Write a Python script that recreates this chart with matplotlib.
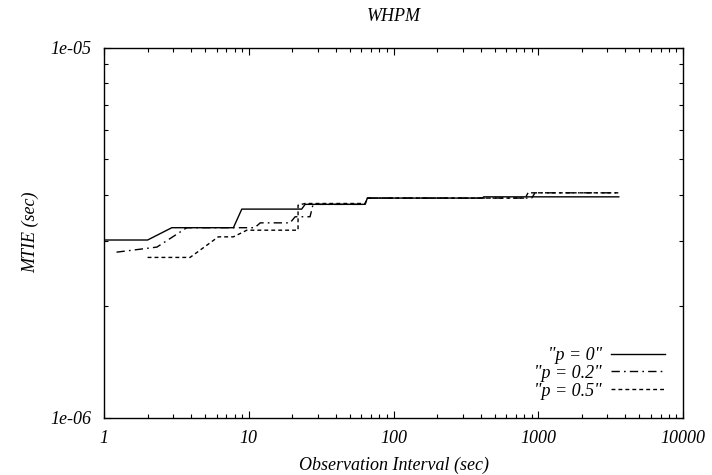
import matplotlib
matplotlib.use("Agg")
import matplotlib.pyplot as plt
from matplotlib.ticker import LogLocator, FixedLocator, NullFormatter

# MTIE curves (observation interval in sec, MTIE in sec)
tau_p0 = [1, 2.0, 2.94, 7.83, 8.95, 23.2, 24.5, 63.6, 66, 409, 420, 3600]
mtie_p0 = [3.02e-6, 3.02e-6, 3.26e-6, 3.26e-6, 3.66e-6, 3.66e-6, 3.77e-6,
           3.77e-6, 3.92e-6, 3.92e-6, 3.95e-6, 3.95e-6]

tau_p02 = [1.22, 2.32, 3.73, 11.0, 12.0, 19.3, 20.9, 26.5, 27.8, 63.6, 66,
           900, 950, 3600]
mtie_p02 = [2.80e-6, 2.89e-6, 3.26e-6, 3.26e-6, 3.36e-6, 3.36e-6, 3.49e-6,
            3.49e-6, 3.77e-6, 3.77e-6, 3.92e-6, 3.92e-6, 4.05e-6, 4.05e-6]

tau_p05 = [2.0, 3.93, 6.16, 7.83, 9.7, 21.9, 21.9, 24.5, 63.6, 66, 812, 850, 3600]
mtie_p05 = [2.71e-6, 2.71e-6, 3.08e-6, 3.08e-6, 3.21e-6, 3.21e-6, 3.75e-6,
            3.79e-6, 3.79e-6, 3.92e-6, 3.92e-6, 4.05e-6, 4.05e-6]

labels = ['"p = 0"', '"p = 0.2"', '"p = 0.5"']

plt.rcParams['font.family'] = 'Liberation Serif'
plt.rcParams['font.style'] = 'italic'

fig = plt.figure(figsize=(7.12, 4.75), dpi=100)
ax = fig.add_axes([0.1461, 0.1206, 0.8132, 0.7794])

ax.plot(tau_p0, mtie_p0, color='black', lw=1.0, label=labels[0])
ax.plot(tau_p02, mtie_p02, color='black', lw=1.0, dashes=(6, 3, 1.2, 3),
        label=labels[1])
ax.plot(tau_p05, mtie_p05, color='black', lw=1.0, dashes=(2.8, 2.2),
        label=labels[2])

ax.set_xscale('log')
ax.set_yscale('log')
ax.set_xlim(1, 10000)
ax.set_ylim(1e-6, 1e-5)

ax.xaxis.set_major_locator(FixedLocator([1, 10, 100, 1000, 10000]))
ax.set_xticklabels(['1', '10', '100', '1000', '10000'])
ax.xaxis.set_minor_locator(LogLocator(base=10, subs=range(2, 10)))
ax.xaxis.set_minor_formatter(NullFormatter())
ax.yaxis.set_major_locator(FixedLocator([1e-6, 1e-5]))
ax.set_yticklabels(['1e-06', '1e-05'])
ax.yaxis.set_minor_locator(LogLocator(base=10, subs=range(2, 10)))
ax.yaxis.set_minor_formatter(NullFormatter())

ax.tick_params(which='both', direction='in', top=True, right=True,
               labelsize=13, width=0.8, pad=9)
ax.tick_params(which='major', length=5)
ax.tick_params(which='minor', length=3)
for s in ax.spines.values():
    s.set_linewidth(1.0)

ax.set_title('WHPM', fontsize=13, pad=19)
ax.set_xlabel('Observation Interval (sec)', fontsize=13, labelpad=7)
ax.set_ylabel('MTIE (sec)', fontsize=13, labelpad=8)

leg = ax.legend(loc='lower right', frameon=False, markerfirst=False,
                fontsize=13, handlelength=3.0, handletextpad=0.5,
                labelspacing=0.05, borderaxespad=0.6)
for t in leg.get_texts():
    t.set_ha('right')

fig.savefig('out.png', dpi=100)
